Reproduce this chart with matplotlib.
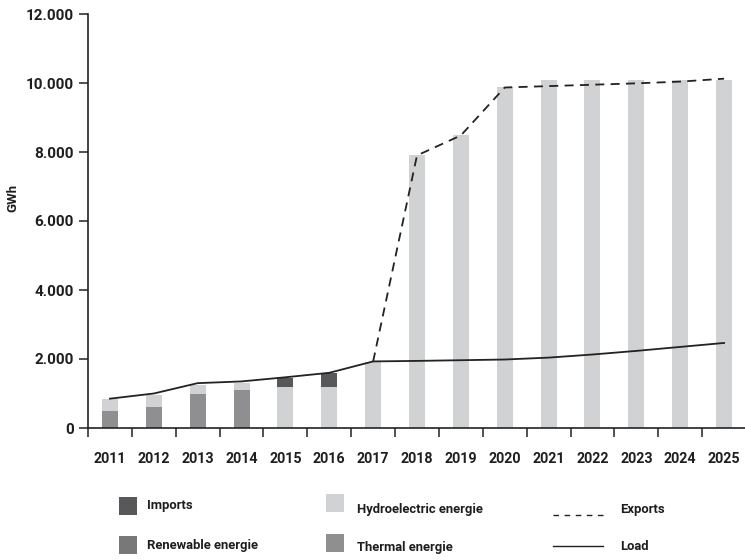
import matplotlib
matplotlib.use("Agg")
import matplotlib.pyplot as plt
from matplotlib.patches import Rectangle
from matplotlib.lines import Line2D
import numpy as np

years = ["2011", "2012", "2013", "2014", "2015", "2016", "2017", "2018",
         "2019", "2020", "2021", "2022", "2023", "2024", "2025"]
thermal = [500, 600, 1000, 1100, 0, 0, 0, 0, 0, 0, 0, 0, 0, 0, 0]
hydro = [350, 350, 250, 200, 1200, 1200, 1900, 7900, 8500, 9880,
         10100, 10100, 10100, 10100, 10100]
imports = [0, 0, 0, 0, 250, 380, 0, 0, 0, 0, 0, 0, 0, 0, 0]
load = [850, 1000, 1300, 1350, 1470, 1600, 1930, 1945, 1965, 1985,
        2040, 2130, 2235, 2350, 2465]
exports_years = ["2017", "2018", "2019", "2020", "2021", "2022", "2023", "2024", "2025"]
exports = [1930, 7900, 8480, 9870, 9910, 9950, 9990, 10040, 10125]
yticks = [0, 2000, 4000, 6000, 8000, 10000, 12000]

C_IMP = "#58585a"
C_REN = "#78787a"
C_THE = "#8f8f91"
C_HYD = "#d1d2d4"
C_LINE = "#222222"
C_TXT = "#1e1e1e"
FONT = ["Roboto", "DejaVu Sans"]
WEIGHT = 600
plt.rcParams["font.family"] = FONT

W, H = 745, 560
fig = plt.figure(figsize=(W / 100, H / 100), dpi=100)
ax = fig.add_axes([88 / W, (H - 428) / H, (746 - 88) / W, (428 - 14) / H])

x = np.arange(len(years))
bw = 0.365
thermal_a = np.array(thermal)
hydro_a = np.array(hydro)
imports_a = np.array(imports)
ax.bar(x, thermal_a, bw, color=C_THE, zorder=2)
ax.bar(x, hydro_a, bw, bottom=thermal_a, color=C_HYD, zorder=2)
ax.bar(x, imports_a, bw, bottom=thermal_a + hydro_a, color=C_IMP, zorder=2)

ax.plot(x, load, color=C_LINE, lw=1.3, zorder=3)
ex_x = [years.index(y) for y in exports_years]
ax.plot(ex_x, exports, color=C_LINE, lw=1.3, ls=(0, (5, 3.5)), zorder=3)

ax.set_xlim(-0.5, 14.5)
ax.set_ylim(0, 12000)

for s in ["top", "right"]:
    ax.spines[s].set_visible(False)
for s in ["left", "bottom"]:
    ax.spines[s].set_color(C_LINE)
    ax.spines[s].set_linewidth(1.2)
ax.spines["bottom"].set_zorder(4)

ax.set_yticks(yticks)
ax.set_yticklabels([f"{v:,}".replace(",", ".") for v in yticks],
                   fontsize=11, fontweight=WEIGHT, color=C_TXT)
ax.tick_params(axis="y", length=6.5, width=1.1, pad=3.5, color=C_LINE)

ax.set_xticks(np.arange(len(years) + 1) - 0.5)
ax.set_xticklabels([])
ax.tick_params(axis="x", which="major", length=6.5, width=1.1, color=C_LINE)
ax.set_xticks(x, minor=True)
ax.set_xticklabels(years, minor=True, fontsize=10.3, fontweight=WEIGHT, color=C_TXT)
ax.tick_params(axis="x", which="minor", length=0, pad=17.5)

fig.text(13 / W, 1 - 198 / H, "GWh", rotation=90, fontsize=9.5,
         fontweight=WEIGHT, ha="center", va="center", color=C_TXT)

# legend (drawn manually in figure pixels)
def fx(px):
    return px / W

def fy(py):
    return 1 - py / H

def square(x0, y0, color):
    fig.add_artist(Rectangle((fx(x0), fy(y0 + 18)), 18 / W, 18 / H,
                             transform=fig.transFigure, color=color, lw=0))

def label(x0, yc, s):
    fig.text(fx(x0), fy(yc), s, fontsize=9.4, fontweight=WEIGHT,
             ha="left", va="center", color=C_TXT)

square(119, 497, C_IMP)
label(147, 506, "Imports")
square(119, 536, C_REN)
label(147, 545, "Renewable energie")
square(326, 494, C_HYD)
label(357, 510, "Hydroelectric energie")
square(326, 534, C_THE)
label(357, 548, "Thermal energie")
fig.add_artist(Line2D([fx(553), fx(603)], [fy(515), fy(515)], transform=fig.transFigure,
                      color=C_LINE, lw=1.0, ls=(0, (4, 4))))
label(620, 509, "Exports")
fig.add_artist(Line2D([fx(553), fx(603)], [fy(546), fy(546)], transform=fig.transFigure,
                      color=C_LINE, lw=1.0))
label(620, 546, "Load")

fig.savefig("out.png", dpi=100, facecolor="white")
